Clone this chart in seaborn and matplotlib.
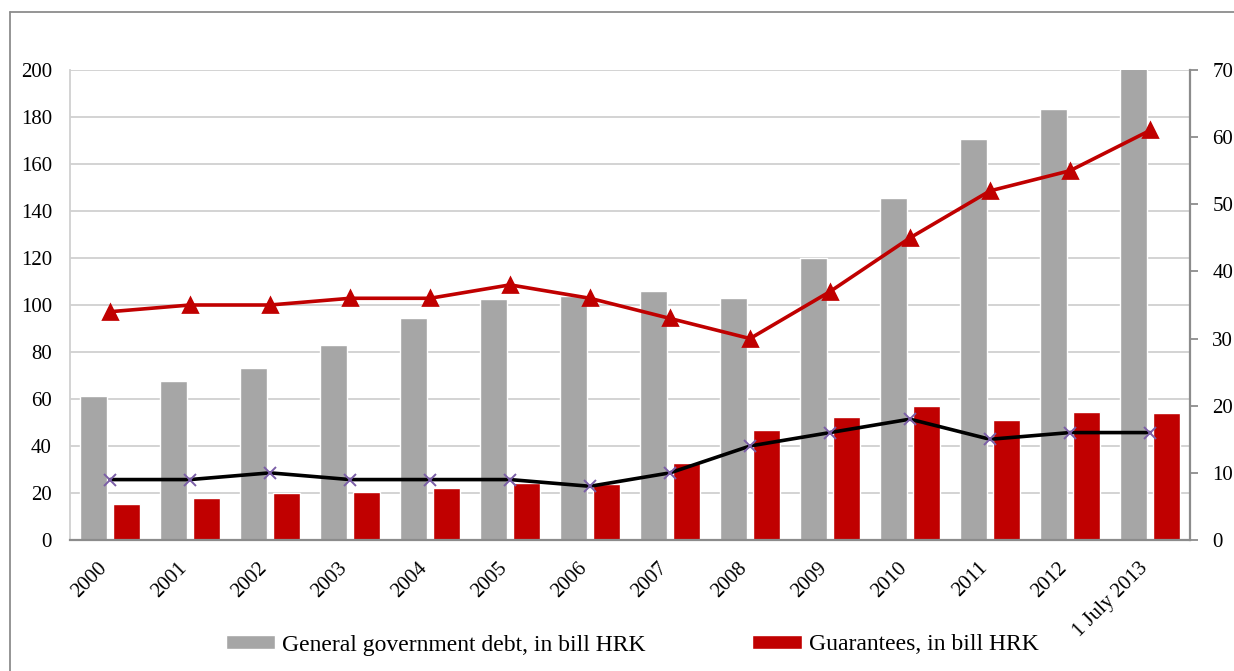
import numpy as np
import pandas as pd
import matplotlib
matplotlib.use("Agg")
import matplotlib.pyplot as plt
import matplotlib.transforms as mtransforms
import seaborn as sns
from matplotlib.patches import Patch
from matplotlib.lines import Line2D

# values
years = ['2000', '2001', '2002', '2003', '2004', '2005', '2006',
         '2007', '2008', '2009', '2010', '2011', '2012', '1 July 2013']
debt = [61.3, 67.7, 73.2, 83.0, 94.5, 102.6, 104.0, 106.0, 103.0, 120.0, 145.5, 170.6, 183.4, 206.0]
guarantees = [15.3, 17.9, 20.0, 20.4, 22.3, 24.2, 24.0, 32.9, 46.8, 52.3, 57.0, 51.0, 54.5, 54.0]
red_line = [34, 35, 35, 36, 36, 38, 36, 33, 30, 37, 45, 52, 55, 61]
black_line = [9, 9, 10, 9, 9, 9, 8, 10, 14, 16, 18, 15, 16, 16]

debt_label = 'General government debt, in bill HRK'
guar_label = 'Guarantees, in bill HRK'
grey = '#A6A6A6'
red = '#C00000'

bars = pd.DataFrame({
    'year': years * 2,
    'value': debt + guarantees,
    'series': [debt_label] * len(years) + [guar_label] * len(years),
})

sns.set_theme(style='white')
plt.rcParams['font.family'] = ['Liberation Serif', 'DejaVu Serif']
plt.rcParams['text.color'] = 'black'
plt.rcParams['xtick.color'] = 'black'
plt.rcParams['ytick.color'] = 'black'

fig = plt.figure(figsize=(12.34, 6.71), dpi=100)
ax = fig.add_axes([70 / 1234, 131 / 671, 1120 / 1234, 470 / 671])

sns.barplot(data=bars, x='year', y='value', hue='series', order=years,
            palette=[grey, red], width=0.84, gap=0.2, ax=ax, legend=False,
            saturation=1)

ax.set_ylim(0, 200)
ax.set_yticks(range(0, 201, 20))
ax.yaxis.grid(True, color='#D0D0D0', linewidth=1.3)
ax.set_axisbelow(True)
ax.set_xlabel('')
ax.set_ylabel('')
ax.tick_params(axis='y', length=0, pad=13, labelsize=15, labelcolor='black')
ax.tick_params(axis='x', length=0, pad=6, labelsize=15, labelcolor='black')
ax.set_xticks(range(len(years)))
ax.set_xticklabels(years, rotation=45, ha='right', rotation_mode='anchor')
shift = mtransforms.ScaledTranslation(-12 / 100, -10 / 100, fig.dpi_scale_trans)
for lab in ax.get_xticklabels():
    lab.set_transform(lab.get_transform() + shift)
for side in ['top', 'right']:
    ax.spines[side].set_visible(False)
ax.spines['left'].set_color('#D0D0D0')
ax.spines['left'].set_linewidth(1.3)
ax.spines['bottom'].set_color('#8C8C8C')
ax.spines['bottom'].set_linewidth(1.6)

ax2 = ax.twinx()
sns.pointplot(x=years, y=red_line, ax=ax2, color=red, markers='^',
              errorbar=None, markersize=10, linewidth=2.6)
sns.pointplot(x=years, y=black_line, ax=ax2, color='black', markers='x',
              errorbar=None, markersize=9, linewidth=2.6)
for ln in ax2.lines:
    if ln.get_marker() == 'x':
        ln.set_markeredgecolor('#7B5EA7')
        ln.set_markeredgewidth(1.4)
        ln.set_zorder(5)

ax2.set_ylim(0, 70)
ax2.set_yticks(range(0, 71, 10))
ax2.set_ylabel('')
ax2.set_xlabel('')
ax2.grid(False)
for side in ['top', 'left', 'bottom']:
    ax2.spines[side].set_visible(False)
ax2.spines['right'].set_visible(True)
ax2.spines['right'].set_color('#8C8C8C')
ax2.spines['right'].set_linewidth(1.6)
ax2.tick_params(axis='y', right=True, direction='out', length=6, width=1.3,
                color='#8C8C8C', pad=10, labelsize=15, labelcolor='black')

handles = [Patch(facecolor=grey, label=debt_label),
           Patch(facecolor=red, label=guar_label)]
fig.legend(handles=handles, loc='center', bbox_to_anchor=(632 / 1234, 1 - 645 / 671),
           ncol=2, frameon=False, fontsize=17, handlelength=2.1, handleheight=0.5,
           handletextpad=0.3, columnspacing=4.5, labelcolor='black')

# outer chart border (top and left edges)
fig.add_artist(Line2D([10 / 1234, 1], [1 - 12 / 671, 1 - 12 / 671],
                      color='#8C8C8C', linewidth=1.3))
fig.add_artist(Line2D([10 / 1234, 10 / 1234], [0, 1 - 12 / 671],
                      color='#8C8C8C', linewidth=1.3))

fig.savefig('out.png', dpi=100)
